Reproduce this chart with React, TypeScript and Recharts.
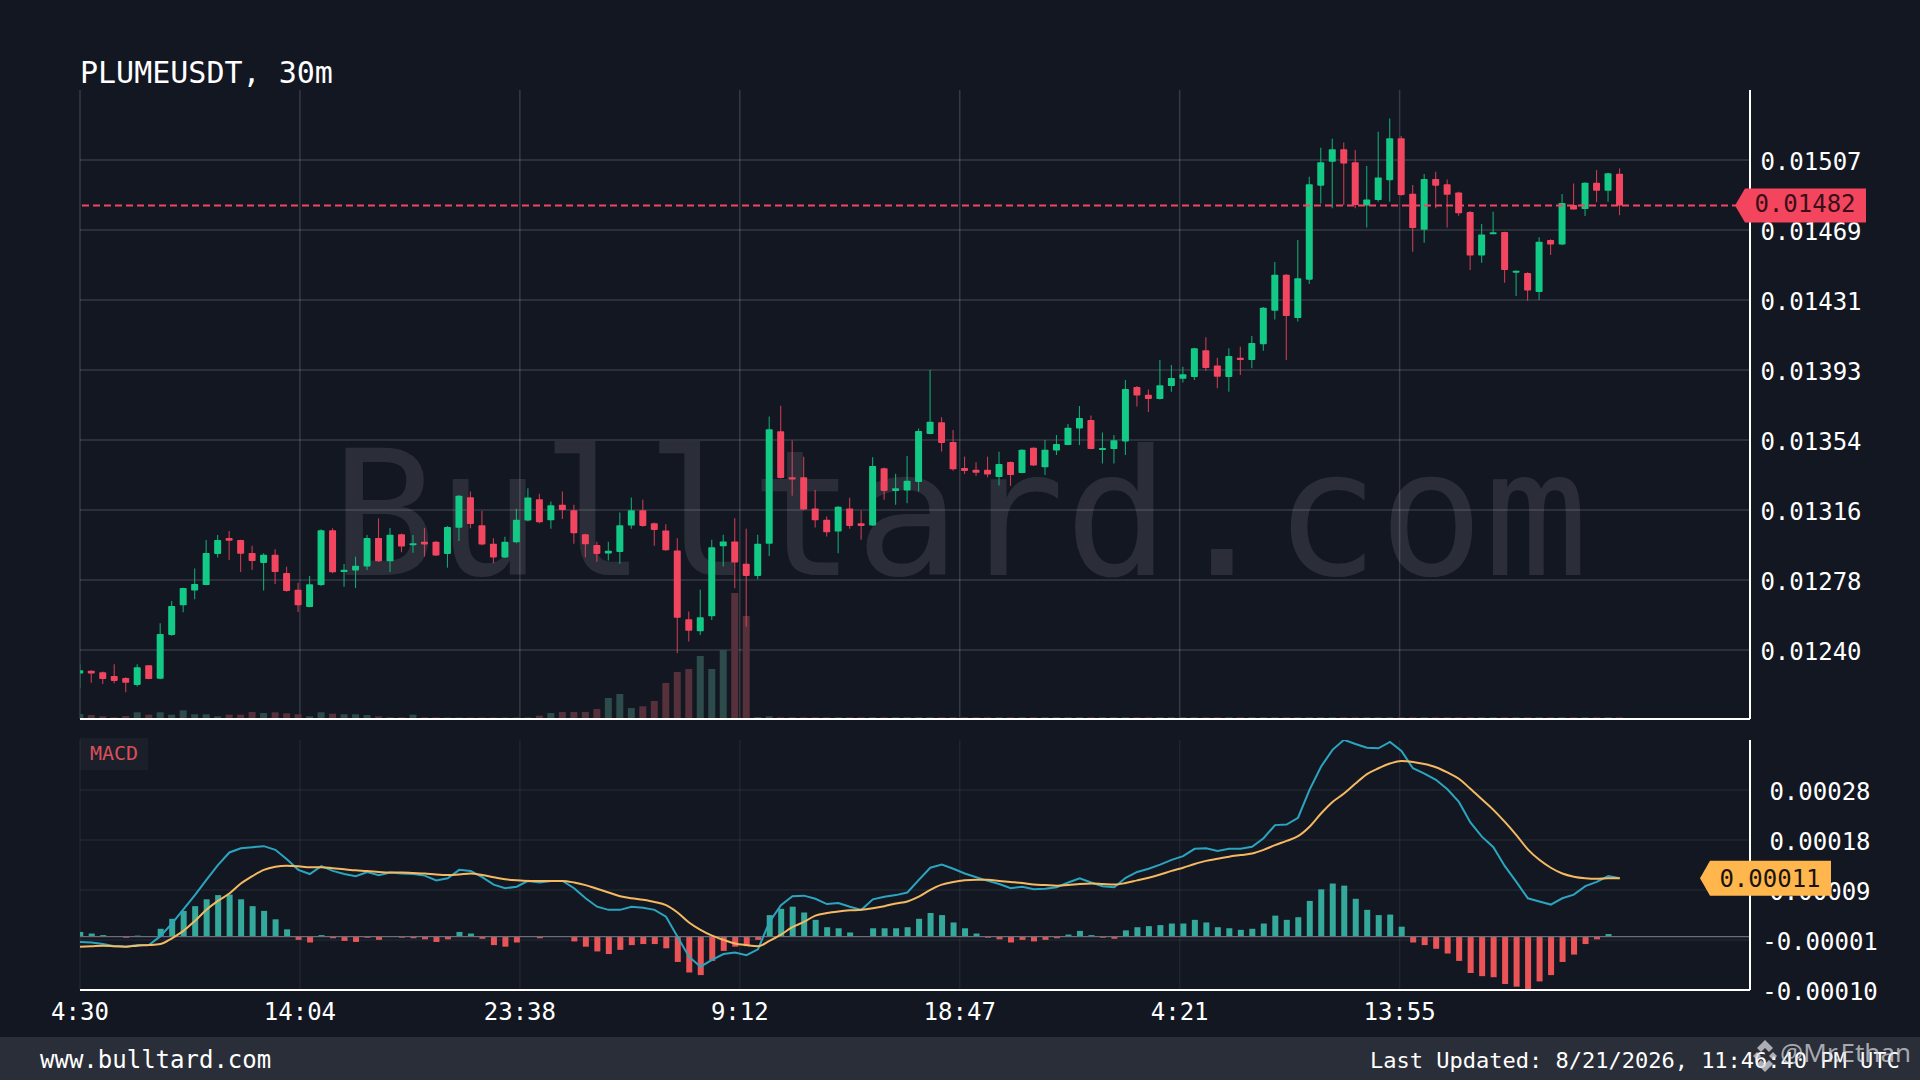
import React from 'react';
import { ComposedChart, Bar, Line, XAxis, YAxis, CartesianGrid, ReferenceLine, Cell } from 'recharts';

const SYMBOL_TITLE = 'PLUMEUSDT, 30m';
const WATERMARK = 'Bulltard.com';
const FOOTER_LEFT = 'www.bulltard.com';
const FOOTER_RIGHT = 'Last Updated: 8/21/2026, 11:46:40 PM UTC';
const CREDIT = '@Mr.Ethan';
const BAR_MINUTES = 30;

// Prices in millionths of a USDT
const OPEN = [
  12269,12285,12276,12256,12245,12207,12314,12241,12480,12642,
  12722,12752,12922,13009,12998,12927,12873,12918,12818,12727,
  12632,12752,13051,12823,12832,12854,13009,12882,13029,12973,
  12989,12989,12922,13065,13231,13078,12978,12903,12986,13104,
  13221,13106,13190,13161,13030,12970,12924,12933,13077,13161,
  13090,13050,12940,12566,12500,12582,12964,12990,12868,12802,
  12977,13592,13341,13341,13170,13108,13044,13170,13090,13077,
  13390,13266,13268,13315,13577,13641,13533,13391,13382,13382,
  13342,13424,13364,13502,13395,13486,13516,13606,13653,13495,
  13495,13536,13833,13791,13767,13838,13878,13887,14033,13951,
  13887,13993,13980,14067,14249,14446,14209,14419,14932,15062,
  15130,15059,14824,14853,14962,15190,14888,14691,14968,14939,
  14895,14788,14551,14670,14679,14462,14455,14351,14635,14611,
  14826,14804,14948,14904,14997,
];
const CLOSE = [
  12287,12269,12239,12229,12219,12303,12239,12485,12638,12736,
  12758,12927,12998,12994,12923,12883,12918,12823,12720,12642,
  12756,13051,12822,12836,12858,13009,12882,13027,12962,12980,
  12974,12913,13069,13240,13085,12973,12903,12989,13108,13230,
  13095,13188,13162,13035,12975,12922,12939,13079,13161,13075,
  13053,12942,12573,12502,12577,12959,12990,12875,12802,12977,
  13603,13337,13328,13164,13106,13040,13179,13075,13075,13402,
  13266,13281,13321,13593,13643,13528,13384,13375,13365,13355,
  13413,13353,13491,13404,13491,13522,13611,13664,13495,13500,
  13542,13822,13787,13767,13842,13882,13902,14044,13937,13889,
  14002,13980,14073,14266,14446,14220,14426,14939,15059,15130,
  15053,14826,14857,14977,15190,14881,14701,14968,14932,14882,
  14781,14551,14666,14677,14471,14468,14360,14626,14611,14837,
  14802,14948,14904,14999,14824,
];
const HIGH = [
  12320,12287,12280,12320,12249,12320,12316,12543,12665,12738,
  12843,12998,13025,13047,12999,12967,12925,12947,12852,12765,
  12802,13056,13062,12867,12907,13025,13116,13063,13033,13025,
  13063,12993,13074,13244,13262,13156,13007,13016,13168,13281,
  13250,13208,13262,13190,13032,12988,12988,13148,13230,13217,
  13093,13084,13008,12608,12726,12999,13026,13117,13059,13026,
  13672,13730,13541,13453,13271,13126,13184,13228,13159,13450,
  13393,13359,13457,13606,13926,13668,13598,13453,13422,13453,
  13480,13427,13493,13504,13544,13571,13631,13729,13677,13584,
  13571,13871,13838,13820,13980,13953,13944,14047,14104,13993,
  14044,14053,14111,14270,14515,14450,14635,14981,15139,15188,
  15168,15126,15039,15226,15299,15203,14935,14995,15008,14966,
  14899,14793,14722,14790,14680,14469,14459,14650,14639,14886,
  14944,14951,15017,15002,15026,
];
const LOW = [
  12192,12219,12212,12216,12167,12198,12238,12238,12476,12603,
  12674,12751,12903,12889,12823,12834,12723,12758,12716,12605,
  12631,12747,12816,12743,12736,12834,12878,12823,12931,12929,
  12907,12911,12847,12993,13062,12969,12871,12900,12980,13099,
  13090,13059,13113,12977,12904,12879,12886,12868,13059,13070,
  12966,12939,12380,12444,12480,12562,12853,12735,12526,12784,
  12911,13333,13239,13160,13066,13017,12926,13060,12999,13075,
  13217,13190,13199,13262,13575,13481,13376,13358,13347,13340,
  13295,13293,13362,13402,13353,13462,13515,13516,13493,13416,
  13416,13462,13726,13696,13765,13807,13858,13871,13920,13826,
  13807,13898,13935,14031,14202,13980,14191,14395,14835,14808,
  14826,14808,14704,14844,14844,14877,14571,14620,14808,14704,
  14768,14471,14511,14669,14402,14329,14304,14308,14553,14606,
  14802,14766,14842,14844,14771,
];
const VOLUME = [
  5,4,2.7,1.7,3,6.7,4.3,6.7,4.3,8.7,
  4.7,4.7,2.7,4.3,4.3,7,6,6.7,5.7,4.7,
  2.7,6.7,5.3,4.7,4.7,4,2.7,1.7,1.7,4.3,
  1.7,1.7,1.5,1.5,1.5,1.5,1.5,1.5,1.5,1.5,
  3.3,6,7,7,7,10,21,25,11,12.7,
  18,36,47,50,63,50,69,126,103,2,
  2.7,1.8,1.8,1.8,1.8,1.8,1.8,1.8,1.8,1.8,
  1.8,1.8,1.8,1.8,1.8,1.8,1.8,1.8,1.8,1.8,
  1.8,1.8,1.8,1.8,1.8,1.8,1.8,1.8,1.8,1.8,
  1.8,1.8,1.8,1.8,1.8,1.8,1.8,1.8,1.8,1.8,
  1.8,1.8,1.8,1.8,1.8,1.8,1.8,1.8,1.8,1.8,
  1.8,1.8,1.8,1.8,1.8,1.8,1.8,1.8,1.8,1.8,
  1.8,1.8,1.8,1.8,1.8,1.8,1.8,1.8,1.8,1.8,
  1.8,1.8,1.8,1.8,1.8,
];
// MACD values in millionths
const MACD_LINE = [
  -10,-11,-14,-18,-19,-16,-16,1,25,52,
  79,108,136,160,168,170,172,165,147,127,
  119,134,125,119,115,123,117,122,120,119,
  116,107,111,127,125,113,99,92,95,106,
  103,106,106,92,73,57,51,51,57,55,
  51,38,0,-38,-57,-44,-33,-30,-35,-24,
  28,60,77,78,72,62,64,57,51,71,
  76,79,84,108,131,137,129,120,113,106,
  100,92,95,90,91,94,103,111,103,96,
  94,112,123,129,137,146,153,167,168,163,
  167,167,171,187,212,213,226,279,323,355,
  374,366,359,358,370,353,320,310,298,280,
  256,217,190,170,134,104,73,67,61,73,
  80,96,104,115,111,
];
const SIGNAL_LINE = [
  -19,-18,-17,-18,-19,-17,-16,-14,-3,11,
  30,51,68,82,101,115,127,133,135,134,
  132,132,130,128,126,125,123,122,122,121,
  120,118,117,118,120,117,113,109,107,106,
  106,106,106,103,98,91,84,77,73,70,
  66,60,46,27,13,2,-6,-13,-16,-18,
  -8,4,18,28,40,45,48,50,51,54,
  58,63,67,76,89,99,104,107,108,108,
  106,104,102,99,98,97,98,100,101,100,
  99,102,107,112,118,125,131,138,144,148,
  152,155,158,165,174,182,191,209,234,256,
  272,291,309,320,329,334,332,328,322,312,
  300,281,261,241,218,193,166,146,131,120,
  114,111,110,111,111,
];
const HISTOGRAM = [
  9,6,3,0,-2,2,1,15,34,49,
  58,71,79,80,71,58,49,33,14,-6,
  -11,3,-3,-8,-10,-2,-6,0,-2,-3,
  -5,-10,-5,9,6,-4,-16,-19,-11,1,
  -3,0,0,-9,-19,-28,-33,-25,-16,-14,
  -14,-22,-48,-68,-73,-46,-27,-19,-18,-6,
  41,53,57,46,32,18,16,8,0,16,
  16,16,18,34,45,41,27,16,6,-2,
  -5,-11,-6,-9,-6,-3,4,11,3,-2,
  -4,12,18,20,22,25,25,32,27,18,
  16,13,15,25,40,32,37,68,90,101,
  97,72,51,41,42,19,-11,-16,-23,-32,
  -46,-69,-75,-77,-90,-95,-100,-85,-73,-48,
  -34,-14,-5,5,0,
];

const TIME_TICKS = [0, 574.2, 1148.4, 1722.6, 2296.8, 2871, 3445.2];
const TIME_LABELS = ['4:30', '14:04', '23:38', '9:12', '18:47', '4:21', '13:55'];
const TIME_DOMAIN = [0, 4360];
const PRICE_TICKS = [0.015072, 0.01469, 0.014308, 0.013926, 0.013544, 0.013162, 0.01278, 0.012398];
const PRICE_DOMAIN = [0.012021, 0.015454];
const VOLUME_DOMAIN = [0, 629];
const MACD_TICKS = [0.0002787, 0.0001837, 0.0000887, -0.0000063, -0.0001013];
const MACD_DOMAIN = [-0.0001013, 0.0003737];
const LAST_PRICE = 0.014824;
const LAST_SIGNAL = 0.000111;

const BG = '#131722';
const UP = '#12c986';
const DOWN = '#f2455f';
const VOL_UP = '#2d4b4b';
const VOL_DOWN = '#56303a';
const HIST_UP = '#35a89c';
const HIST_DOWN = '#ea5457';
const FONT = '"DejaVu Sans Mono", monospace';
const PLOT_LEFT = 80;

const candles = OPEN.map((open, i) => ({
  t: i * BAR_MINUTES,
  open: open / 1e6,
  high: HIGH[i] / 1e6,
  low: LOW[i] / 1e6,
  close: CLOSE[i] / 1e6,
  range: [LOW[i] / 1e6, HIGH[i] / 1e6],
  volume: VOLUME[i],
  up: CLOSE[i] >= open,
}));
const macdRows = MACD_LINE.map((m, i) => ({
  t: i * BAR_MINUTES,
  macd: m / 1e6,
  signal: SIGNAL_LINE[i] / 1e6,
  hist: HISTOGRAM[i] / 1e6,
}));

function CandleShape(props: any) {
  const { x, y, width, height, payload } = props;
  const { open, close, high, low, up } = payload;
  const span = high - low || 1;
  const at = (v: number) => y + (height * (high - v)) / span;
  const top = at(Math.max(open, close));
  const bottom = at(Math.min(open, close));
  const color = up ? UP : DOWN;
  const left = Math.max(x, PLOT_LEFT);
  const right = x + width;
  const cx = x + width / 2;
  return (
    <g>
      <line x1={cx} x2={cx} y1={y} y2={y + height} stroke={color} strokeWidth={1.1} strokeOpacity={0.8} />
      <rect x={left} y={top} width={right - left} height={Math.max(bottom - top, 2)} rx={0.8} fill={color} />
    </g>
  );
}

function ClampedBar(props: any) {
  const { x, y, width, height, fill } = props;
  const left = Math.max(x, PLOT_LEFT);
  return (
    <rect x={left} y={Math.min(y, y + height)} width={x + width - left} height={Math.abs(height)} fill={fill} />
  );
}

function VolumeShape(props: any) {
  return <ClampedBar {...props} fill={props.payload.up ? VOL_UP : VOL_DOWN} />;
}

function RightTick(props: any) {
  const { y, payload } = props;
  return (
    <text x={props.labelX} y={y + 10} textAnchor="middle" fill="#ffffff" fontFamily={FONT} fontSize={24}>
      {payload.value.toFixed(5)}
    </text>
  );
}

function TimeTick(props: any) {
  const { x, payload } = props;
  const label = TIME_LABELS[TIME_TICKS.indexOf(payload.value)];
  return (
    <text x={x} y={1020} textAnchor="middle" fill="#ffffff" fontFamily={FONT} fontSize={24}>
      {label}
    </text>
  );
}

function NoTick() {
  return <g />;
}

function ValueTag(props: any) {
  const { viewBox, tipX, bodyLeft, right, halfH, fill, text, textX, textDy, textFill } = props;
  const y = viewBox.y;
  const pts = [
    [tipX, y],
    [bodyLeft, y - halfH],
    [right, y - halfH],
    [right, y + halfH],
    [bodyLeft, y + halfH],
  ]
    .map((p) => p.join(','))
    .join(' ');
  return (
    <g>
      <polygon points={pts} fill={fill} />
      <text x={textX} y={y + textDy} textAnchor="middle" fontFamily={FONT} fontSize={24} fill={textFill}>
        {text}
      </text>
    </g>
  );
}

const abs = (left: number, top: number): React.CSSProperties => ({ position: 'absolute', left, top });

export default function App() {
  return (
    <div style={{ position: 'absolute', left: 0, top: 0, width: 1920, height: 1080, background: BG, overflow: 'hidden' }}>
      <svg width={1920} height={1080} style={abs(0, 0)}>
        <text x={80} y={83} fontFamily={FONT} fontSize={30} fill="#ffffff">{SYMBOL_TITLE}</text>
        <text x={960} y={575} textAnchor="middle" fontFamily={FONT} fontSize={174} fill="#ffffff" fillOpacity={0.1}>
          {WATERMARK}
        </text>
        <rect x={80} y={738} width={68} height={32} fill="#1b1f2a" />
        <text x={90} y={760} fontFamily={FONT} fontSize={20} fill="#d9505a">MACD</text>
        <rect x={0} y={1037} width={1920} height={43} fill="#2a2e39" />
        <text x={40} y={1068} fontFamily={FONT} fontSize={24} fill="#ffffff">{FOOTER_LEFT}</text>
        <text x={1370} y={1068} fontFamily={FONT} fontSize={22} fill="#ffffff">{FOOTER_RIGHT}</text>
      </svg>

      <div style={abs(0, 0)}>
        <ComposedChart width={1920} height={1080} data={candles} margin={{ top: 90, right: 0, bottom: 360, left: 80 }}>
          <XAxis
            xAxisId="candles"
            dataKey="t"
            type="number"
            domain={TIME_DOMAIN}
            ticks={TIME_TICKS}
            allowDataOverflow
            height={1}
            tick={<NoTick />}
            tickLine={false}
            interval={0}
            axisLine={{ stroke: '#ffffff', strokeWidth: 2 }}
          />
          <XAxis xAxisId="volume" dataKey="t" type="number" domain={TIME_DOMAIN} allowDataOverflow hide />
          <YAxis
            yAxisId="price"
            orientation="right"
            width={170}
            domain={PRICE_DOMAIN}
            ticks={PRICE_TICKS}
            allowDataOverflow
            tickLine={false}
            interval={0}
            axisLine={{ stroke: '#ffffff', strokeWidth: 2 }}
            tick={<RightTick labelX={1811} />}
          />
          <YAxis yAxisId="vol" domain={VOLUME_DOMAIN} allowDataOverflow hide />
          <CartesianGrid
            xAxisId="candles"
            yAxisId="price"
            horizontalValues={PRICE_TICKS}
            verticalValues={TIME_TICKS}
            stroke="#ffffff"
            strokeOpacity={0.15}
            strokeWidth={1.5}
          />
          <ReferenceLine
            xAxisId="candles"
            yAxisId="price"
            y={LAST_PRICE}
            stroke={DOWN}
            strokeWidth={2}
            strokeDasharray="7 4"
          />
          <Bar
            xAxisId="volume"
            yAxisId="vol"
            dataKey="volume"
            barSize={7}
            isAnimationActive={false}
            shape={<VolumeShape />}
          />
          <Bar
            xAxisId="candles"
            yAxisId="price"
            dataKey="range"
            barSize={7}
            isAnimationActive={false}
            shape={<CandleShape />}
          />
        </ComposedChart>
      </div>

      <div style={abs(0, 0)}>
        <ComposedChart width={1920} height={1080} data={macdRows} margin={{ top: 740, right: 0, bottom: 0, left: 80 }}>
          <XAxis
            dataKey="t"
            type="number"
            domain={TIME_DOMAIN}
            ticks={TIME_TICKS}
            allowDataOverflow
            height={90}
            tickLine={false}
            axisLine={{ stroke: '#ffffff', strokeWidth: 2 }}
            tick={<TimeTick />}
            interval={0}
          />
          <YAxis
            orientation="right"
            width={170}
            domain={MACD_DOMAIN}
            ticks={MACD_TICKS}
            allowDataOverflow
            tickLine={false}
            axisLine={{ stroke: '#ffffff', strokeWidth: 2 }}
            tick={<RightTick labelX={1820} />}
            interval={0}
          />
          <CartesianGrid
            horizontalValues={MACD_TICKS}
            verticalValues={TIME_TICKS}
            stroke="#ffffff"
            strokeOpacity={0.06}
            strokeWidth={1.5}
          />
          <ReferenceLine y={0} stroke="#6a6e78" strokeWidth={1.2} />
          <Bar dataKey="hist" barSize={6} isAnimationActive={false} shape={<ClampedBar />}>
            {macdRows.map((r) => (
              <Cell key={r.t} fill={r.hist >= 0 ? HIST_UP : HIST_DOWN} />
            ))}
          </Bar>
          <Line dataKey="macd" stroke="#2ba5bf" strokeWidth={2} dot={false} isAnimationActive={false} type="linear" />
          <Line dataKey="signal" stroke="#f5b962" strokeWidth={2} dot={false} isAnimationActive={false} type="monotone" />
        </ComposedChart>
      </div>

      {/* Value tags sit above the axis text, on a top layer sharing the same scales */}
      <div style={{ ...abs(0, 0), pointerEvents: 'none' }}>
        <ComposedChart width={1920} height={1080} data={candles} margin={{ top: 90, right: 170, bottom: 361, left: 80 }}>
          <XAxis dataKey="t" type="number" domain={TIME_DOMAIN} allowDataOverflow hide />
          <YAxis domain={PRICE_DOMAIN} allowDataOverflow hide />
          <ReferenceLine
            y={LAST_PRICE}
            stroke="none"
            label={
              <ValueTag
                tipX={1735}
                bodyLeft={1745}
                right={1866}
                halfH={17}
                fill="#f4455f"
                textX={1805}
                textDy={7}
                textFill="#3a0f18"
                text={LAST_PRICE.toFixed(5)}
              />
            }
          />
        </ComposedChart>
      </div>
      <div style={{ ...abs(0, 0), pointerEvents: 'none' }}>
        <ComposedChart width={1920} height={1080} data={macdRows} margin={{ top: 740, right: 170, bottom: 90, left: 80 }}>
          <XAxis dataKey="t" type="number" domain={TIME_DOMAIN} allowDataOverflow hide />
          <YAxis domain={MACD_DOMAIN} allowDataOverflow hide />
          <ReferenceLine
            y={LAST_SIGNAL}
            stroke="none"
            label={
              <ValueTag
                tipX={1700}
                bodyLeft={1710}
                right={1831}
                halfH={17.5}
                fill="#ffb74d"
                textX={1770}
                textDy={9}
                textFill="#1a1410"
                text={LAST_SIGNAL.toFixed(5)}
              />
            }
          />
        </ComposedChart>
      </div>

      <svg width={1920} height={1080} style={{ ...abs(0, 0), pointerEvents: 'none' }}>
        <g fill="#d8dade" fillOpacity={0.75}>
          <path d="M1765 1040 l8 8 -4 4 -4 -4 -4 4 -4 -4z" />
          <path d="M1765 1072 l8 -8 -4 -4 -4 4 -4 -4 -4 4z" />
          <path d="M1753 1056 l4 -4 4 4 -4 4z" />
          <path d="M1769 1056 l4 -4 4 4 -4 4z" />
        </g>
        <text x={1780} y={1062} fontFamily='"Noto Sans", sans-serif' fontSize={26} fill="#d8dade" fillOpacity={0.72}>
          {CREDIT}
        </text>
      </svg>
    </div>
  );
}
